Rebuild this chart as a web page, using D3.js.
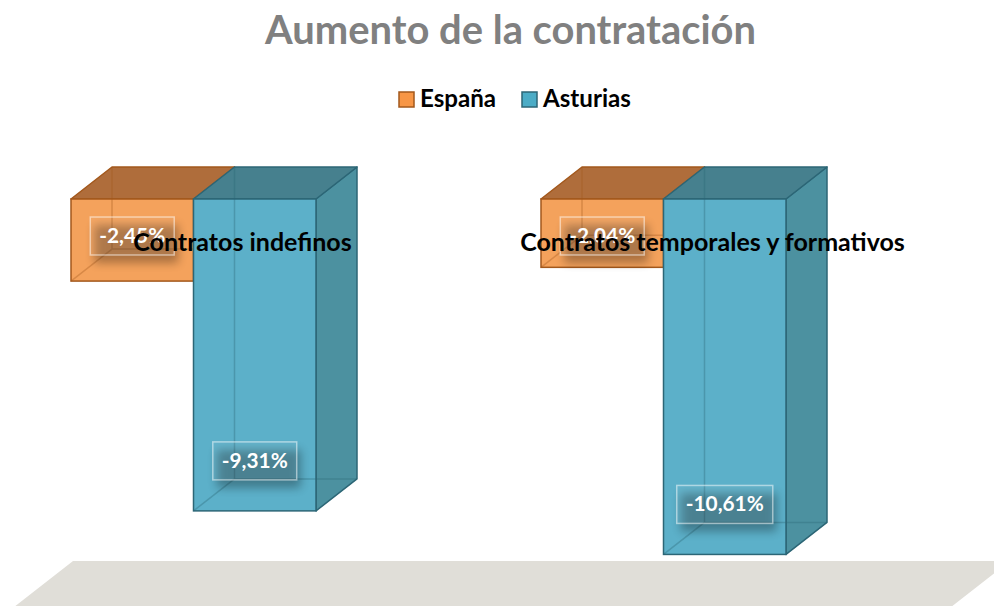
<!DOCTYPE html>
<html><head><meta charset="utf-8">
<script src="https://cdn.jsdelivr.net/npm/d3@7"></script>
<style>body{margin:0;background:#fff}svg{display:block}</style>
</head><body><svg id="c" width="994" height="606"></svg>
<script>
// ---- data ----
const categories = ["Contratos indefinos", "Contratos temporales y formativos"];
const seriesNames = ["España", "Asturias"];
const espana = [-2.45, -2.04];
const asturias = [-9.31, -10.61];
const titleText = "Aumento de la contratación";

// ---- styles ----
const FONT = "Lato, 'Open Sans', sans-serif";
const colors = {
  "España":   {front:"#F4A25C", top:"#AF6D3B", side:"#C97D3F", edge:"#A3581C", legend:"#F79646", legendEdge:"#A3581C"},
  "Asturias": {front:"#5CB0C9", top:"#46808E", side:"#4C91A0", edge:"#2C6676", legend:"#4BACC6", legendEdge:"#2C6676"}
};
const DX = 41, DY = -32;

const svg = d3.select("#c");
const values = {"España": espana, "Asturias": asturias};
const rows = [];
categories.forEach((c, i) => seriesNames.forEach(s => rows.push({cat:c, s, v:values[s][i]})));

const y = d3.scaleLinear().domain([-12, 0]).range([601, 199]);
const x = d3.scaleBand().domain(categories).range([-41.5, 898.5]);
const xs = d3.scaleBand().domain(seriesNames).range([112.5, 357.5]);
const bw = xs.bandwidth();

function fitSize(text, target, weight) {
  const t = svg.append("text").attr("font-family", FONT).attr("font-weight", weight || "bold")
    .attr("font-size", 20).text(text);
  const w = t.node().getComputedTextLength();
  t.remove();
  return 20 * target / w;
}

// floor
const floorTop = y(-12) - 40;
const fl = 73, fr = 1010, fd = 60;
svg.append("path")
  .attr("d", `M${fl},${floorTop}L${fr},${floorTop}L${fr + DX/DY*fd},${floorTop+fd}L${fl + DX/DY*fd},${floorTop+fd}Z`)
  .attr("fill", "#E0DED8");

// defs
const defs = svg.append("defs");
const f = defs.append("filter").attr("id", "blur").attr("x", "-50%").attr("y", "-50%").attr("width", "200%").attr("height", "200%");
f.append("feGaussianBlur").attr("stdDeviation", 5);

// bars
const bars = svg.append("g");
rows.forEach(d => {
  const c = colors[d.s];
  const x0 = x(d.cat) + xs(d.s), x1 = x0 + bw;
  const y0 = y(0), y1 = y(d.v);
  const g = bars.append("g");
  g.append("path").attr("d", `M${x1},${y0}L${x1+DX},${y0+DY}L${x1+DX},${y1+DY}L${x1},${y1}Z`)
    .attr("fill", c.side).attr("stroke", c.edge).attr("stroke-width", 1.5).attr("stroke-linejoin", "round");
  g.append("path").attr("d", `M${x0},${y0}L${x0+DX},${y0+DY}L${x1+DX},${y0+DY}L${x1},${y0}Z`)
    .attr("fill", c.top).attr("stroke", c.edge).attr("stroke-width", 1.5).attr("stroke-linejoin", "round");
  g.append("rect").attr("x", x0).attr("y", y0).attr("width", bw).attr("height", y1 - y0)
    .attr("fill", c.front);
  g.append("path").attr("d", `M${x0+DX},${y0+DY}L${x0+DX},${y1+DY}L${x1+DX},${y1+DY}M${x0+DX},${y1+DY}L${x0},${y1}`)
    .attr("fill", "none").attr("stroke", c.edge).attr("stroke-opacity", 0.35).attr("stroke-width", 1.5);
  g.append("rect").attr("x", x0).attr("y", y0).attr("width", bw).attr("height", y1 - y0)
    .attr("fill", "none").attr("stroke", c.edge).attr("stroke-width", 1.5);
});

// data labels
const fmt = v => (v < 0 ? "-" : "") + Math.abs(v).toFixed(2).replace(".", ",") + "%";
const labelSize = fitSize(fmt(espana[0]), 66);
const labels = svg.append("g");
rows.forEach(d => {
  const cx = x(d.cat) + xs(d.s) + bw / 2;
  const cy = Math.max(y(d.v) - 50, y(0) + 37);
  const t = labels.append("text").attr("font-family", FONT).attr("font-weight", "bold")
    .attr("font-size", labelSize).attr("fill", "#fff").attr("text-anchor", "middle")
    .attr("x", cx).attr("y", cy + 7).text(fmt(d.v));
  const w = t.node().getComputedTextLength() + 18, h = 38;
  labels.insert("rect", () => t.node()).attr("x", cx - w/2 + 4).attr("y", cy - h/2 + 8).attr("width", w).attr("height", h)
    .attr("fill", "#000").attr("opacity", 0.3).attr("filter", "url(#blur)");
  labels.insert("rect", () => t.node()).attr("x", cx - w/2).attr("y", cy - h/2).attr("width", w).attr("height", h)
    .attr("fill", "#fff").attr("fill-opacity", 0.06).attr("stroke", "#fff").attr("stroke-opacity", 0.5).attr("stroke-width", 1.5);
});

// category labels
const catSize = fitSize(categories[1], 385);
svg.append("g").selectAll("text").data(categories).join("text")
  .attr("font-family", FONT).attr("font-weight", "bold").attr("font-size", catSize)
  .attr("fill", "#000").attr("text-anchor", "middle")
  .attr("x", d => x(d) + x.bandwidth() / 2 + 49).attr("y", 251).text(d => d);

// title
const titleSize = fitSize(titleText, 491);
svg.append("text").attr("font-family", FONT).attr("font-weight", "bold").attr("font-size", titleSize)
  .attr("fill", "#808080").attr("text-anchor", "middle").attr("x", 510.5).attr("y", 44).text(titleText);

// legend
const legSize = fitSize(seriesNames[1], 88);
const legX = [399, 522];
const leg = svg.append("g");
seriesNames.forEach((s, i) => {
  leg.append("rect").attr("x", legX[i]).attr("y", 92).attr("width", 15).attr("height", 15)
    .attr("fill", colors[s].legend).attr("stroke", colors[s].legendEdge).attr("stroke-width", 1.5);
  leg.append("text").attr("font-family", FONT).attr("font-weight", "bold").attr("font-size", legSize)
    .attr("x", legX[i] + 21).attr("y", 107).attr("fill", "#000").text(s);
});
</script></body></html>
